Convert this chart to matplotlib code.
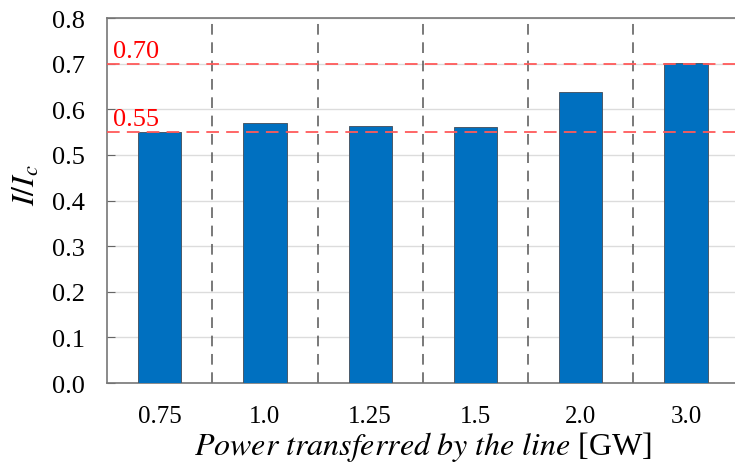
import matplotlib
matplotlib.use("Agg")
import matplotlib.pyplot as plt
import numpy as np

plt.rcParams['font.family'] = ['Liberation Serif', 'DejaVu Serif']
plt.rcParams['mathtext.fontset'] = 'stix'

# data
power_labels = ["0.75", "1.0", "1.25", "1.5", "2.0", "3.0"]
ratio = [0.550, 0.570, 0.564, 0.562, 0.638, 0.702]
limits = [0.70, 0.55]
limit_labels = ["0.70", "0.55"]

fig = plt.figure(figsize=(7.35, 4.64), dpi=100)
ax = fig.add_axes([0.1456, 0.1724, 0.8594, 0.7866])

x = np.arange(len(power_labels))
ax.bar(x, ratio, width=0.41, color="#0070C0", edgecolor="#4a5a6a",
       linewidth=0.7, zorder=3)

# horizontal grid
ax.set_ylim(0, 0.8)
ax.set_yticks(np.arange(0, 0.81, 0.1))
ax.set_yticklabels([f"{v:.1f}" for v in np.arange(0, 0.81, 0.1)])
ax.yaxis.grid(True, color="#dcdcdc", linewidth=1.0, zorder=0)

# dashed dividers between categories
for d in x[:-1] + 0.5:
    ax.axvline(d, color="#555555", linestyle=(0, (7, 5)), linewidth=1.1, zorder=2)

# red limit lines
for val, lab in zip(limits, limit_labels):
    ax.axhline(val, color="#ff5a5a", linestyle=(0, (7, 4)), linewidth=1.3, zorder=4)
    ax.text(-0.44, val + 0.004, lab, color="red", fontsize=19,
            ha="left", va="bottom", zorder=5)

ax.set_xlim(-0.5, len(power_labels) - 0.5)
ax.set_xticks(x)
ax.set_xticklabels(power_labels)
ax.tick_params(axis="x", length=0, pad=16, labelsize=18)
ax.tick_params(axis="y", direction="in", length=6, color="#666666",
               labelsize=19, pad=16)

for s in ax.spines.values():
    s.set_color("#777777")
    s.set_linewidth(1.2)

ax.set_ylabel(r"$I/I_c$", fontsize=23)
ax.yaxis.set_label_coords(-0.103, 0.545)
ax.set_xlabel(r"$\it{Power\ transferred\ by\ the\ line}$ [GW]", fontsize=23, labelpad=1)

fig.savefig("out.png", dpi=100)
